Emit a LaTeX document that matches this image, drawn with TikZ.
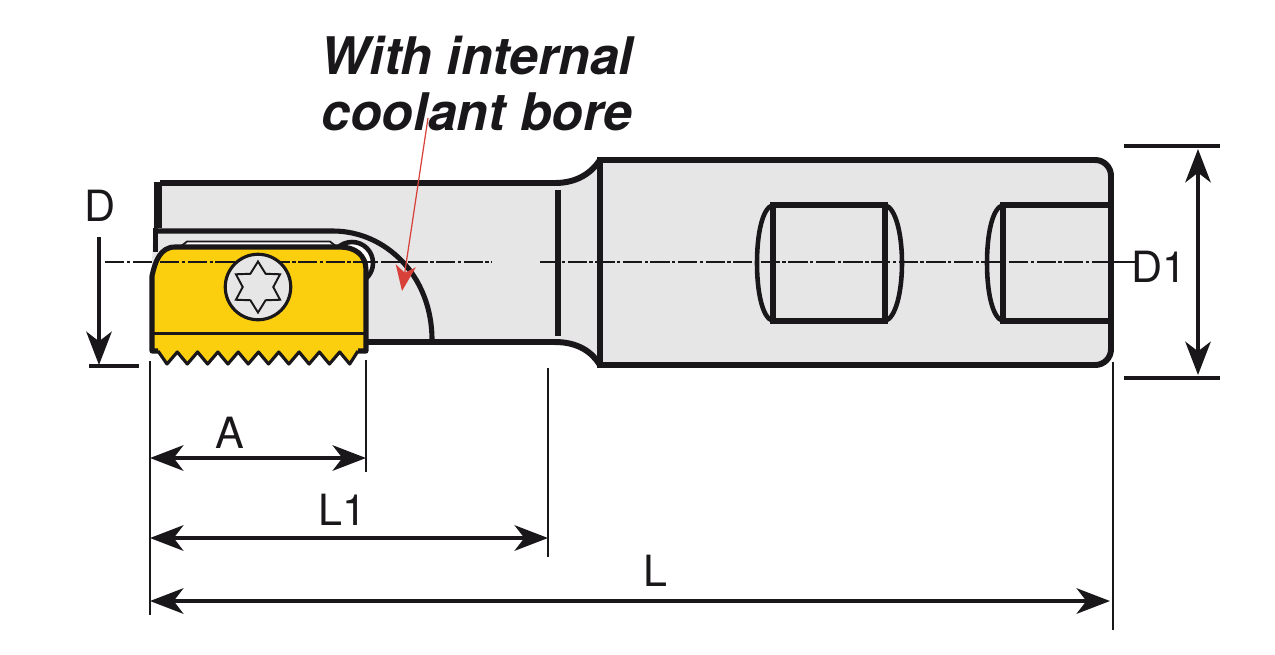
\documentclass[tikz,border=0pt]{standalone}
\usepackage{fontspec}
\setmainfont{TeX Gyre Heros}
\usetikzlibrary{arrows.meta, positioning, shapes.geometric}
\definecolor{BodyGrey}{HTML}{E6E6E6}
\definecolor{InsertYellow}{HTML}{FBCF0D}
\definecolor{LineBlack}{HTML}{1A171B}
\definecolor{BoreRed}{HTML}{D8403A}
\tikzset{
	outline/.style={line width=3.4pt, LineBlack},
	medline/.style={line width=2.9pt, LineBlack},
	bulgeline/.style={line width=2.6pt, LineBlack},
	centerline/.style={line width=1.5pt, LineBlack, dash pattern=on 11pt off 1.4pt on 1.9pt off 1.4pt},
	extline/.style={line width=1.6pt, LineBlack},
	baseline/.style={line width=1.9pt, LineBlack},
	dimline/.style={line width=2pt, LineBlack, {Stealth[length=19pt, width=14.5pt, inset=5.5pt]}-{Stealth[length=19pt, width=14.5pt, inset=5.5pt]}},
	dimlabel/.style={font=\fontsize{24.5}{27}\selectfont, text=LineBlack, inner sep=0pt},
	notelabel/.style={font=\bfseries\itshape\fontsize{29.5}{32}\selectfont, text=LineBlack, inner sep=0pt}
}

\begin{document}
\begin{tikzpicture}[x=0.02cm, y=-0.02cm]
	\useasboundingbox (0,0) rectangle (1275,654);

	\fill[BodyGrey] (155,190) -- (162,183) -- (555,183) .. controls (578,183) and (592,172) .. (600,160) -- (1100,160) -- (1111,171) -- (1111,354) -- (1100,365) -- (600,365) .. controls (592,352) and (578,342) .. (555,342) -- (365,342) -- (152,351) -- (152,262) -- cycle;

	\draw[outline, line join=round] (160,183) -- (555,183) .. controls (578,183) and (592,172) .. (600,160);
	\draw[outline, line join=round] (365,342) -- (555,342) .. controls (578,342) and (592,352) .. (600,365);
	\draw[outline] (600,157) -- (600,368);
	\draw[outline, rounded corners=9] (600,160) -- (1111,160) -- (1111,365) -- (600,365);
	\draw[line width=5pt, LineBlack] (158,182) -- (158,228);
	\draw[medline] (155.5,228) -- (155.5,252);
	\draw[medline] (154,231) -- (333,231) .. controls (385,231) and (432,275) .. (432,340);
	\draw[outline] (558,190) -- (558,336);

	\fill[white] (187,242) rectangle (330,247);
	\draw[line width=1pt, LineBlack] (180,247) -- (187,241.5) -- (330,241.5) -- (337,247);
	\draw[bulgeline, fill=white] (352,263) circle (21);

	\draw[outline] (773,205) rectangle (885,321);
	\draw[bulgeline] (773,205) .. controls (762,208) and (757,235) .. (757,263) .. controls (757,291) and (762,318) .. (773,321);
	\draw[bulgeline] (885,205) .. controls (896,208) and (902,235) .. (902,263) .. controls (902,291) and (896,318) .. (885,321);
	\draw[outline] (1111,205) -- (1003,205) -- (1003,321) -- (1111,321);
	\draw[bulgeline] (1003,205) .. controls (992,208) and (987,235) .. (987,263) .. controls (987,291) and (992,318) .. (1003,321);

	\fill[InsertYellow] (152,351) -- (152,276) .. controls (155,262) and (160,247) .. (175,247) -- (340,247) .. controls (355,247) and (366,255) .. (366,270) -- (366,351) -- (358,351) -- cycle;
	\draw[line width=1.8pt, LineBlack, fill=InsertYellow, line join=round] (158,351) -- (167,364)
		\foreach \k in {1,...,9} { -- (167+\k*20.3-10,352) -- (167+\k*20.3,364) } -- (358,351);
	\draw[medline, line join=round] (158,351) -- (152,351) -- (152,276) .. controls (155,262) and (160,247) .. (175,247) -- (340,247) .. controls (355,247) and (366,255) .. (366,270) -- (366,351) -- (358,351);
	\draw[line width=1.7pt, LineBlack] (152,333) -- (366,333);

	\coordinate (C1a) at (105,262);
	\coordinate (C1b) at (492,262);
	\coordinate (C2a) at (540,262);
	\coordinate (C2b) at (1111,262);
	\coordinate (C2c) at (1135,262);
	\draw[centerline] (C1a) -- (C1b);
	\draw[centerline] (C2a) -- (C2b);
	\draw[line width=1.5pt, LineBlack] (C2b) -- (C2c);

	\node[circle, draw=LineBlack, line width=1.8pt, fill=BodyGrey, minimum size=1.31cm, inner sep=0pt] (screw) at (258,287) {};
	\node[star, star points=6, star point ratio=1.67, draw=LineBlack, line width=1.1pt, fill=BodyGrey, minimum size=1.02cm, inner sep=0pt] (torx) at (258,287) {};

	\coordinate (Dtop) at (99,237);
	\coordinate (Dbot) at (99,365);
	\coordinate (Dbasea) at (89,366);
	\coordinate (Dbaseb) at (139,366);
	\draw[line width=2pt, LineBlack, -{Stealth[length=19pt, width=14.5pt, inset=5.5pt]}] (Dtop) -- (Dbot);
	\draw[baseline] (Dbasea) -- (Dbaseb);

	\coordinate (Xa) at (150,361);
	\coordinate (Xab) at (150,615);
	\coordinate (Xb) at (366,360);
	\coordinate (Xbb) at (366,472);
	\coordinate (Xc) at (548,368);
	\coordinate (Xcb) at (548,557);
	\coordinate (Xd) at (1113,362);
	\coordinate (Xdb) at (1113,630);
	\draw[extline] (Xa) -- (Xab);
	\draw[extline] (Xb) -- (Xbb);
	\draw[extline] (Xc) -- (Xcb);
	\draw[extline] (Xd) -- (Xdb);

	\coordinate (Aa) at (150,458);
	\coordinate (Ab) at (366,458);
	\coordinate (Ma) at (150,538);
	\coordinate (Mb) at (548,538);
	\coordinate (La) at (150,601);
	\coordinate (Lb) at (1110,601);
	\draw[dimline] (Aa) -- (Ab);
	\draw[dimline] (Ma) -- (Mb);
	\draw[dimline] (La) -- (Lb);

	\coordinate (Ya) at (1124,146);
	\coordinate (Yab) at (1220,146);
	\coordinate (Yb) at (1124,378);
	\coordinate (Ybb) at (1220,378);
	\coordinate (Ra) at (1198,149);
	\coordinate (Rb) at (1198,375);
	\draw[baseline] (Ya) -- (Yab);
	\draw[baseline] (Yb) -- (Ybb);
	\draw[dimline] (Ra) -- (Rb);

	\node[dimlabel] (dlabel) at (100,206) {D};
	\node[dimlabel] (donelabel) at (1159,267) {D1};
	\node[dimlabel] (alabel) at (230,433) {A};
	\node[dimlabel] (lonelabel) at (342,510) {L1};
	\node[dimlabel] (llabel) at (655,571) {L};

	\node[notelabel] (notea) at (477,56) {With internal};
	\node[notelabel] (noteb) at (477,112) {coolant bore};

	\coordinate (boreend) at (428,118);
	\coordinate (boretip) at (402,291);
	\draw[line width=0.7pt, BoreRed, -{Stealth[length=14.5pt, width=11.5pt, inset=4pt]}] (boreend) -- (boretip);
\end{tikzpicture}
\end{document}
